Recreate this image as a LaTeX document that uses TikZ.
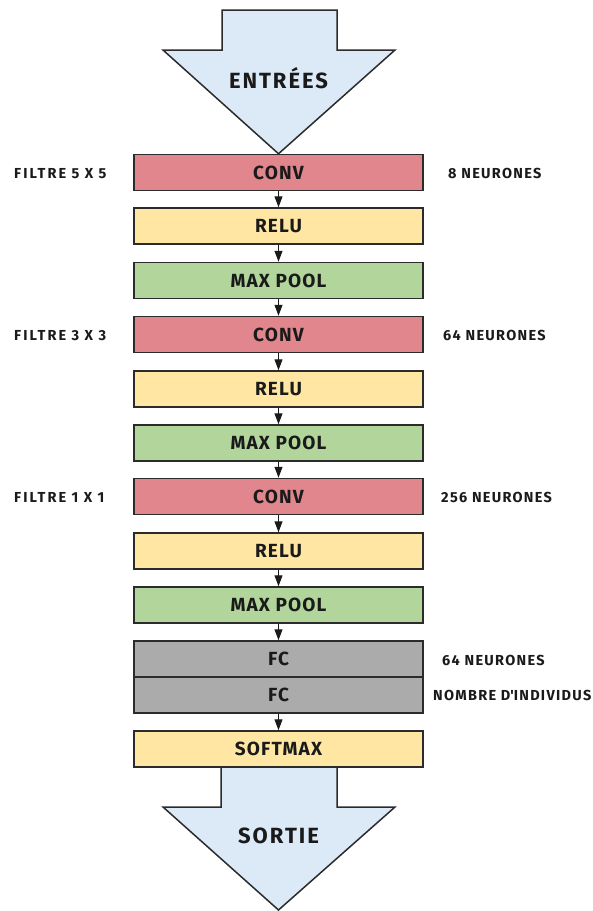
\documentclass[tikz,border=0pt]{standalone}
\usepackage{fontspec}
\setmainfont{Fira Sans}
\usetikzlibrary{arrows.meta,backgrounds}

\definecolor{convfill}{HTML}{E0868C}
\definecolor{relufill}{HTML}{FFE6A3}
\definecolor{poolfill}{HTML}{B1D59B}
\definecolor{fcfill}{HTML}{ABABAB}
\definecolor{iofill}{HTML}{DCEAF8}
\definecolor{edge}{HTML}{2B2B2B}
\definecolor{ink}{HTML}{1A1A1A}

\tikzset{
  layer/.style={draw=edge, line width=1.5pt, minimum width=289pt,
    minimum height=36pt, inner sep=0pt, text=ink,
    font=\fontsize{19}{19}\selectfont\bfseries\addfontfeatures{LetterSpace=6}},
  conv/.style={layer, fill=convfill},
  relu/.style={layer, fill=relufill},
  pool/.style={layer, fill=poolfill},
  fc/.style={layer, fill=fcfill},
  flow/.style={draw=ink, line width=1pt, -{Triangle[length=11pt,width=8pt]}},
  note/.style={anchor=west, text=ink, inner sep=0pt,
    font=\fontsize{14.5}{15}\selectfont\bfseries\addfontfeatures{LetterSpace=9}},
  filternote/.style={note,
    font=\fontsize{14.5}{15}\selectfont\bfseries\addfontfeatures{LetterSpace=14}},
  bigarrow/.style={draw=edge, line width=1.5pt, fill=iofill, line join=miter},
  iolabel/.style={text=ink,
    font=\fontsize{22}{22}\selectfont\bfseries\addfontfeatures{LetterSpace=9}}
}

\begin{document}
\begin{tikzpicture}[x=1pt, y=-1pt]
\useasboundingbox (0,0) rectangle (593,911);

% network layers
\node[conv] (conv1) at (278.5,172.5) {CONV};
\node[relu] (relu1) at (278.5,226) {RELU};
\node[pool] (pool1) at (278.5,280.5) {MAX POOL};
\node[conv] (conv2) at (278.5,334.5) {CONV};
\node[relu] (relu2) at (278.5,389) {RELU};
\node[pool] (pool2) at (278.5,443) {MAX POOL};
\node[conv] (conv3) at (278.5,496.5) {CONV};
\node[relu] (relu3) at (278.5,551) {RELU};
\node[pool] (pool3) at (278.5,605) {MAX POOL};
\node[fc] (fc1) at (278.5,659) {FC};
\node[fc] (fc2) at (278.5,695) {FC};
\node[relu] (soft) at (278.5,749) {SOFTMAX};

% data flow between layers
\draw[flow] (conv1.south) -- (relu1.north);
\draw[flow] (relu1.south) -- (pool1.north);
\draw[flow] (pool1.south) -- (conv2.north);
\draw[flow] (conv2.south) -- (relu2.north);
\draw[flow] (relu2.south) -- (pool2.north);
\draw[flow] (pool2.south) -- (conv3.north);
\draw[flow] (conv3.south) -- (relu3.north);
\draw[flow] (relu3.south) -- (pool3.north);
\draw[flow] (pool3.south) -- (fc1.north);
\draw[flow] (fc2.south) -- (soft.north);

% input and output arrows
\begin{scope}[on background layer]
  \draw[bigarrow] (222,10) -- (337,10) -- (337,50) -- (395,50)
    -- (conv1.north) -- (163,50) -- (222,50) -- cycle;
  \fill[iofill] (221,749) rectangle (337,808);
  \draw[bigarrow] (221,749) -- (221,807) -- (163,807) -- (278.5,910)
    -- (395,807) -- (337,807) -- (337,749);
\end{scope}
\node[iolabel] (entrees) at (278.5,78.5) {ENTRÉES};
\node[iolabel] (sortie) at (278.5,835.5) {SORTIE};

% filter sizes
\node[filternote] (f1) at (14,173.5) {FILTRE 5 X 5};
\node[filternote] (f2) at (14,335.5) {FILTRE 3 X 3};
\node[filternote] (f3) at (14,497.5) {FILTRE 1 X 1};

% neuron counts
\node[note] (n1) at (448,173.5) {8 NEURONES};
\node[note] (n2) at (443,335.5) {64 NEURONES};
\node[note] (n3) at (441,497.5) {256 NEURONES};
\node[note] (n4) at (442,660) {64 NEURONES};
\node[note] (n5) at (433,695) {NOMBRE D\textquotesingle INDIVIDUS};
\end{tikzpicture}
\end{document}
